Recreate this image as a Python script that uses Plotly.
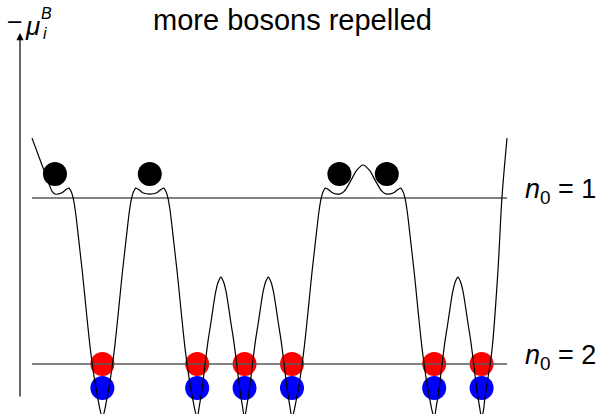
import plotly.graph_objects as go

# Lattice potential -mu_i^B along the chain (x in lattice-site units, y in units of the level spacing)
curve_x = [
    -0.485, -0.211, -0.127, -0.060, 0.000,
    0.135, 0.219, 0.293, 0.346, 0.388, 0.430, 0.473, 0.525, 0.578, 0.631, 0.684, 0.736, 0.789, 0.842, 0.895, 0.947, 1.000,
    1.053, 1.105, 1.158, 1.211, 1.264, 1.316, 1.369, 1.422, 1.475, 1.527, 1.570, 1.612, 1.654, 1.707, 1.781, 1.865, 2.000,
    2.135, 2.219, 2.293, 2.346, 2.388, 2.430, 2.473, 2.525, 2.578, 2.631, 2.684, 2.736, 2.789, 2.842, 2.895, 2.947, 3.000,
    3.042, 3.105, 3.169, 3.232, 3.285, 3.338, 3.390, 3.443, 3.500, 3.557, 3.610, 3.662, 3.715, 3.768, 3.831, 3.895, 3.958, 4.000,
    4.042, 4.105, 4.169, 4.232, 4.285, 4.338, 4.390, 4.443, 4.500, 4.557, 4.610, 4.662, 4.715, 4.768, 4.831, 4.895, 4.958, 5.000,
    5.053, 5.105, 5.158, 5.211, 5.264, 5.316, 5.369, 5.422, 5.475, 5.527, 5.570, 5.612, 5.654, 5.707, 5.781, 5.865, 6.000,
    6.100, 6.224, 6.371, 6.500, 6.629, 6.776, 6.900, 7.000,
    7.135, 7.219, 7.293, 7.346, 7.388, 7.430, 7.473, 7.525, 7.578, 7.631, 7.684, 7.736, 7.789, 7.842, 7.895, 7.947, 8.000,
    8.042, 8.105, 8.169, 8.232, 8.285, 8.338, 8.390, 8.443, 8.500, 8.557, 8.610, 8.662, 8.715, 8.768, 8.831, 8.895, 8.958, 9.000,
    9.040, 9.072, 9.219, 9.346, 9.430, 9.536,
]
curve_y = [
    1.361, 1.151, 1.085, 1.040, 1.024,
    1.030, 1.048, 1.060, 1.036, 0.994, 0.922, 0.819, 0.687, 0.554, 0.404, 0.253, 0.114, -0.006, -0.108, -0.193, -0.271, -0.325,
    -0.271, -0.193, -0.108, -0.006, 0.114, 0.253, 0.404, 0.554, 0.687, 0.819, 0.922, 0.994, 1.036, 1.060, 1.048, 1.030, 1.024,
    1.030, 1.048, 1.060, 1.036, 0.994, 0.922, 0.819, 0.687, 0.554, 0.404, 0.253, 0.114, -0.006, -0.108, -0.193, -0.271, -0.325,
    -0.259, -0.145, 0.006, 0.145, 0.241, 0.343, 0.434, 0.494, 0.524, 0.494, 0.434, 0.343, 0.241, 0.145, 0.006, -0.145, -0.259, -0.325,
    -0.259, -0.145, 0.006, 0.145, 0.241, 0.343, 0.434, 0.494, 0.524, 0.494, 0.434, 0.343, 0.241, 0.145, 0.006, -0.145, -0.259, -0.325,
    -0.271, -0.193, -0.108, -0.006, 0.114, 0.253, 0.404, 0.554, 0.687, 0.819, 0.922, 0.994, 1.036, 1.060, 1.048, 1.030, 1.024,
    1.040, 1.096, 1.169, 1.199, 1.169, 1.096, 1.040, 1.024,
    1.030, 1.048, 1.060, 1.036, 0.994, 0.922, 0.819, 0.687, 0.554, 0.404, 0.253, 0.114, -0.006, -0.108, -0.193, -0.271, -0.325,
    -0.259, -0.145, 0.006, 0.145, 0.241, 0.343, 0.434, 0.494, 0.524, 0.494, 0.434, 0.343, 0.241, 0.145, 0.006, -0.145, -0.259, -0.325,
    -0.277, -0.199, 0.084, 0.566, 1.006, 1.361,
]

# Filling levels
level_labels = ["1", "2"]
level_values = [1.0, 0.0]
level_span = [-0.485, 9.536]

# Site occupations
single_sites = [0, 2, 6, 7]      # one boson, pushed up to the n0 = 1 plateau
single_height = 1.145
double_sites = [1, 3, 4, 5, 8, 9]  # two bosons in the deep wells
upper_height = 0.0
lower_height = -0.145

# Energy axis arrow
axis_x = -0.738
axis_bottom = -0.205
axis_top = 1.994

x_range = [-1.160, 11.498]
y_range = [-0.301, 2.193]

FONT = "Liberation Sans"

fig = go.Figure()

fig.add_trace(go.Scatter(
    x=single_sites, y=[single_height] * len(single_sites), mode="markers",
    marker=dict(size=24, color="black", line=dict(width=0)), hoverinfo="skip"))
fig.add_trace(go.Scatter(
    x=double_sites, y=[upper_height] * len(double_sites), mode="markers",
    marker=dict(size=24, color="#ff0000", line=dict(width=0)), hoverinfo="skip"))
fig.add_trace(go.Scatter(
    x=double_sites, y=[lower_height] * len(double_sites), mode="markers",
    marker=dict(size=24, color="#0000ff", line=dict(width=0)), hoverinfo="skip"))

for lab, val in zip(level_labels, level_values):
    fig.add_trace(go.Scatter(
        x=level_span, y=[val, val], mode="lines",
        line=dict(color="#5a5a5a", width=1.6), hoverinfo="skip"))
    fig.add_annotation(
        x=9.873, y=val + 0.04, xref="x", yref="y", showarrow=False,
        xanchor="left", yanchor="middle",
        text="<i>n</i><sub>0</sub> = " + lab,
        font=dict(family=FONT, size=27, color="black"))

fig.add_trace(go.Scatter(
    x=curve_x, y=curve_y, mode="lines",
    line=dict(color="black", width=1.2, shape="spline", smoothing=0.8),
    hoverinfo="skip"))

# vertical energy axis with arrow head
fig.add_annotation(
    x=axis_x, y=axis_top, ax=axis_x, ay=axis_bottom,
    xref="x", yref="y", axref="x", ayref="y",
    showarrow=True, arrowhead=2, arrowsize=1.2, arrowwidth=1.2,
    arrowcolor="black", standoff=0, text="")

# axis label -mu_i^B, set piece by piece so the sub- and superscript stack
label_parts = [
    ("\u2212", 4, 22, 21, False, "DejaVu Sans"),
    ("\u03bc", 23, 26, 26, True, FONT),
    ("i", 41, 33, 16, True, FONT),
    ("B", 39, 13, 16, True, FONT),
]
for txt, px, py, size, italic, fam in label_parts:
    fig.add_annotation(
        x=px / 600, y=1 - py / 414, xref="paper", yref="paper", showarrow=False,
        xanchor="left", yanchor="middle",
        text=f"<i>{txt}</i>" if italic else txt,
        font=dict(family=fam, size=size, color="black"))

fig.add_annotation(
    x=292 / 600, y=1 - 20 / 414, xref="paper", yref="paper", showarrow=False,
    xanchor="center", yanchor="middle",
    text="more bosons repelled",
    font=dict(family=FONT, size=29, color="black"))

fig.update_layout(
    width=600, height=414, margin=dict(l=0, r=0, t=0, b=0),
    paper_bgcolor="white", plot_bgcolor="white", showlegend=False,
    xaxis=dict(range=x_range, visible=False, fixedrange=True),
    yaxis=dict(range=y_range, visible=False, fixedrange=True),
)

fig.write_html("out.html")
